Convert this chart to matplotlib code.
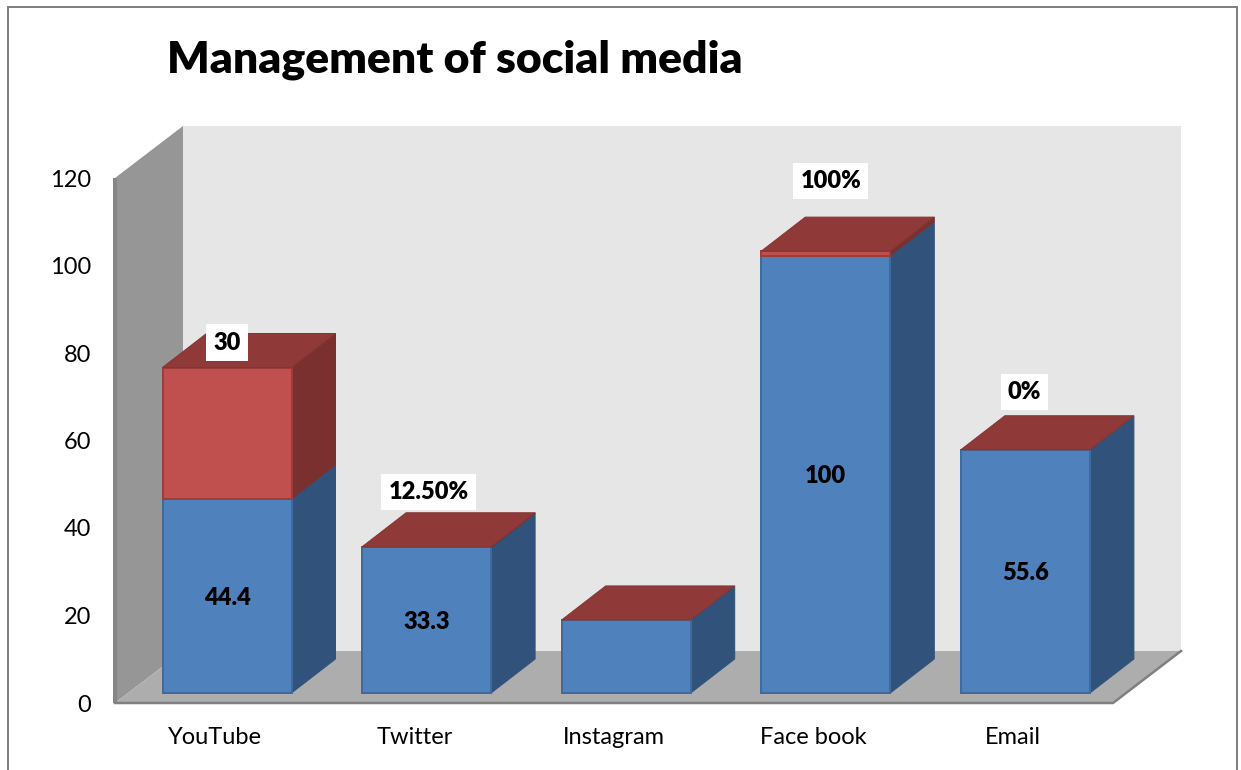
import matplotlib
matplotlib.use("Agg")
import matplotlib.pyplot as plt
from matplotlib.patches import Polygon, Rectangle

categories = ["YouTube", "Twitter", "Instagram", "Face book", "Email"]
blue_values = [44.4, 33.3, 16.7, 100, 55.6]
red_values = [30, 0.125, 0, 1, 0]
blue_labels = ["44.4", "33.3", "", "100", "55.6"]
red_labels = ["30", "12.50%", "", "100%", "0%"]
y_ticks = [0, 20, 40, 60, 80, 100, 120]

# hand placed offsets (pixels) of the labels above the stacks
red_label_offsets = [(0, 25), (2, 55), (0, 0), (5, 70), (-1, 58)]

W, H = 1241, 770
PX = 72 / 100  # one pixel in points

BLUE = ("#4F81BD", "#31527A", "#3F6A9E")
RED = ("#C0504D", "#7A302E", "#9A3E3C")
TOP = "#8F3A38"

plt.rcParams["font.family"] = ["Lato", "DejaVu Sans"]

fig = plt.figure(figsize=(W / 100, H / 100), dpi=100, facecolor="white")
ax = fig.add_axes([115 / W, 1 - 703 / H, 998 / W, 525 / H])
ax.set_xlim(0, 5)
ax.set_ylim(0, 120)
ax.patch.set_alpha(0)
for s in ax.spines.values():
    s.set_visible(False)

xpx = 5 / 998  # data units per pixel
ypx = 120 / 525

# room depth, bar depth, and where the bars stand on the floor
room_dx, room_dy = 68 * xpx, 52 * ypx
bar_dx, bar_dy = 44 * xpx, 34 * ypx
bar_w = 129 * xpx
bar_shift = 112 * xpx
base = 10 * ypx


def poly(points, face, edge="none", lw=0.0, z=1):
    ax.add_patch(Polygon(points, closed=True, facecolor=face, edgecolor=edge,
                         linewidth=lw, zorder=z, clip_on=False, joinstyle="miter"))


# walls and floor
poly([(room_dx, room_dy), (5 + room_dx, room_dy), (5 + room_dx, 120 + room_dy), (room_dx, 120 + room_dy)], "#E6E6E6")
poly([(0, 0), (room_dx, room_dy), (room_dx, 120 + room_dy), (0, 120)], "#969696")
poly([(0, 0), (5, 0), (5 + room_dx, room_dy), (room_dx, room_dy)], "#ADADAD")
ax.plot([0, 0], [0, 120], color="#868686", lw=4 * PX, zorder=2, clip_on=False, solid_capstyle="butt")
ax.plot([0, 5, 5 + room_dx], [0, 0, room_dy], color="#808080", lw=2.5 * PX, zorder=2, clip_on=False)


def box(x0, y0, y1, colors, z):
    x1 = x0 + bar_w
    poly([(x1, y0), (x1 + bar_dx, y0 + bar_dy), (x1 + bar_dx, y1 + bar_dy), (x1, y1)], colors[1], colors[1], 1 * PX, z)
    poly([(x0, y0), (x1, y0), (x1, y1), (x0, y1)], colors[0], colors[2], 2 * PX, z + 0.1)


for i, (b, r) in enumerate(zip(blue_values, red_values)):
    left = i + bar_shift - bar_w / 2
    right = left + bar_w
    z = 3 + i
    box(left, base, base + b, BLUE, z)
    top = base + b
    if r > 0:
        box(left, top, top + r, RED, z + 0.2)
        top += r
    # the empty or thin red segment still leaves a red lid on the stack
    poly([(left, top), (right, top), (right + bar_dx, top + bar_dy), (left + bar_dx, top + bar_dy)],
         TOP, "#843432", 1 * PX, z + 0.4)
    if blue_labels[i]:
        ax.annotate(blue_labels[i], xy=(i + bar_shift, base + b / 2), xytext=(0, -2 * PX),
                    textcoords="offset points", ha="center", va="center",
                    fontsize=17, fontweight="heavy", color="black", zorder=20)
    if red_labels[i]:
        dx, dy = red_label_offsets[i]
        ax.annotate(red_labels[i], xy=(i + bar_shift, top), xytext=(dx * PX, dy * PX),
                    textcoords="offset points", ha="center", va="center",
                    fontsize=17, fontweight="heavy", color="black", zorder=20,
                    bbox=dict(boxstyle="square,pad=0.3", facecolor="white", edgecolor="none"))

ax.set_yticks(y_ticks)
ax.set_xticks([i + 0.5 for i in range(len(categories))])
ax.set_xticklabels(categories)
ax.tick_params(axis="both", length=0, labelsize=17, colors="black")
ax.tick_params(axis="y", pad=24 * PX)
ax.tick_params(axis="x", pad=24 * PX)

fig.text(167 / W, 1 - 60 / H, "Management of social media", fontsize=32, fontweight="heavy",
         color="black", ha="left", va="center")

# frame round the chart, its lower edge runs off the canvas
fig.add_artist(Rectangle((8 / W, -0.02), (1237 - 8) / W, 1.02 - 7 / H, transform=fig.transFigure,
                         facecolor="none", edgecolor="#808080", linewidth=2 * PX))

fig.savefig("out.png", dpi=100)
